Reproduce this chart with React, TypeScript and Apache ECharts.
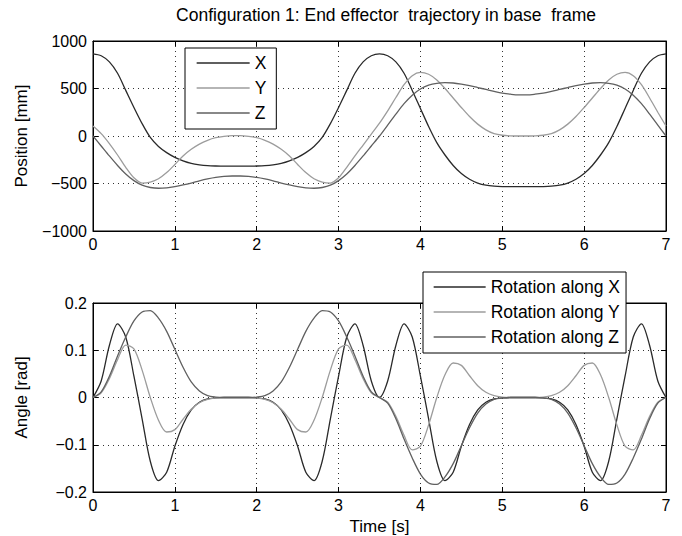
import React, { useEffect, useRef } from "react";
import * as echarts from "echarts";

const TIME = [
  0, 0.1, 0.2, 0.3, 0.4, 0.5, 0.6, 0.7, 0.8, 0.9, 1.0, 1.1, 1.2, 1.3, 1.4, 1.5, 1.6, 1.7, 1.8, 1.9,
  2.0, 2.1, 2.2, 2.3, 2.4, 2.5, 2.6, 2.7, 2.8, 2.9, 3.0, 3.1, 3.2, 3.3, 3.4, 3.5, 3.6, 3.7, 3.8, 3.9,
  4.0, 4.1, 4.2, 4.3, 4.4, 4.5, 4.6, 4.7, 4.8, 4.9, 5.0, 5.1, 5.2, 5.3, 5.4, 5.5, 5.6, 5.7, 5.8, 5.9,
  6.0, 6.1, 6.2, 6.3, 6.4, 6.5, 6.6, 6.7, 6.8, 6.9, 7.0,
];

// Position [mm]
const POS_X = [
  865, 845, 780, 660, 480, 300, 130, -15, -110, -175, -225, -262, -288, -303, -312, -316, -318, -318, -318, -318,
  -316, -312, -303, -288, -262, -225, -175, -110, -15, 130, 300, 480, 660, 780, 845, 865, 845, 780, 660, 480,
  290, 100, -70, -200, -310, -395, -455, -495, -518, -528, -532, -533, -533, -533, -533, -532, -528, -518, -495, -455,
  -395, -310, -200, -70, 100, 290, 480, 660, 780, 845, 865,
];
const POS_Y = [
  105, 25, -80, -200, -330, -440, -495, -485, -450, -385, -300, -210, -140, -85, -45, -18, -4, 3, 3, -4,
  -18, -45, -85, -140, -210, -300, -385, -450, -485, -495, -440, -330, -210, -95, 20, 135, 265, 405, 540, 635,
  670, 650, 590, 500, 400, 300, 205, 125, 65, 25, 8, 2, 0, 0, 2, 8, 25, 65, 125, 205,
  300, 400, 500, 590, 650, 670, 635, 540, 400, 250, 105,
];
const POS_Z = [
  0, -105, -210, -310, -400, -470, -518, -542, -550, -545, -532, -515, -495, -472, -452, -436, -426, -421, -421, -426,
  -436, -452, -472, -495, -515, -532, -545, -550, -542, -518, -470, -400, -310, -210, -105, 0, 115, 230, 340, 430,
  495, 535, 555, 562, 558, 546, 530, 510, 490, 470, 452, 440, 433, 433, 440, 452, 470, 490, 510, 530,
  546, 558, 562, 555, 535, 495, 430, 340, 230, 115, 0,
];

// Angle [rad]
const ROT_X = [
  0, 0.035, 0.11, 0.156, 0.128, 0.045, -0.045, -0.135, -0.176, -0.158, -0.103, -0.057, -0.026, -0.01, -0.003, -0.001, 0, 0, 0, 0,
  -0.001, -0.003, -0.01, -0.026, -0.057, -0.103, -0.158, -0.176, -0.135, -0.045, 0.045, 0.128, 0.156, 0.11, 0.035, 0, 0.035, 0.11, 0.156, 0.128,
  0.045, -0.045, -0.135, -0.176, -0.158, -0.103, -0.057, -0.026, -0.01, -0.003, -0.001, 0, 0, 0, 0, -0.001, -0.003, -0.01, -0.026, -0.057,
  -0.103, -0.158, -0.176, -0.135, -0.045, 0.045, 0.128, 0.156, 0.11, 0.035, 0,
];
const ROT_Y = [
  0, 0.01, 0.04, 0.08, 0.111, 0.103, 0.058, 0.0, -0.048, -0.073, -0.068, -0.046, -0.025, -0.011, -0.004, -0.001, 0, 0, 0, 0,
  -0.001, -0.004, -0.011, -0.025, -0.046, -0.068, -0.073, -0.048, 0.0, 0.058, 0.103, 0.111, 0.08, 0.04, 0.01, 0, -0.01, -0.04, -0.08, -0.111,
  -0.103, -0.058, 0.0, 0.048, 0.073, 0.068, 0.046, 0.025, 0.011, 0.004, 0.001, 0, 0, 0, 0, 0.001, 0.004, 0.011, 0.025, 0.046,
  0.068, 0.073, 0.048, 0.0, -0.058, -0.103, -0.111, -0.08, -0.04, -0.01, 0,
];
const ROT_Z = [
  0, 0.012, 0.045, 0.088, 0.128, 0.162, 0.181, 0.184, 0.168, 0.14, 0.102, 0.064, 0.033, 0.014, 0.004, 0.001, 0, 0, 0, 0,
  0.001, 0.004, 0.014, 0.033, 0.064, 0.102, 0.14, 0.168, 0.184, 0.181, 0.162, 0.128, 0.088, 0.045, 0.012, 0, -0.012, -0.045, -0.088, -0.128,
  -0.162, -0.181, -0.184, -0.168, -0.14, -0.102, -0.064, -0.033, -0.014, -0.004, -0.001, 0, 0, 0, 0, -0.001, -0.004, -0.014, -0.033, -0.064,
  -0.102, -0.14, -0.168, -0.184, -0.181, -0.162, -0.128, -0.088, -0.045, -0.012, 0,
];

const TOP_NAMES = ["X", "Y", "Z"];
const BOTTOM_NAMES = ["Rotation along X", "Rotation along Y", "Rotation along Z"];
const TITLE = "Configuration 1: End effector  trajectory in base  frame";
const COLORS = ["#2a2a2a", "#9c9c9c", "#606060"];
const FONT = "'Liberation Sans', Arial, Helvetica, sans-serif";

const minus = (v: number) => {
  const s = String(Math.round(v * 1000) / 1000);
  return s.replace("-", "\u2212");
};

export default function App() {
  const ref = useRef<HTMLDivElement>(null);
  useEffect(() => {
    if (!ref.current) return;
    const chart = echarts.init(ref.current, null, { renderer: "svg" });
    const pair = (ys: number[]) => TIME.map((t, i) => [t, ys[i]]);

    const tick = { show: true, inside: true, length: 5, lineStyle: { color: "#000" } };
    const split = { show: true, lineStyle: { color: "#333", type: [1, 4] as any, width: 1 } };
    const lbl = { color: "#000", fontSize: 16, fontFamily: FONT };
    const nameStyle = { color: "#000", fontSize: 17, fontFamily: FONT };

    const xMain = (gridIndex: number, name: string) => ({
      type: "value", gridIndex, min: 0, max: 7, interval: 1, position: "bottom",
      axisLine: { show: true, onZero: false, lineStyle: { color: "#000" } },
      axisTick: tick, splitLine: split,
      axisLabel: { ...lbl, margin: 5 },
      name, nameLocation: "middle", nameGap: 26,
      nameTextStyle: nameStyle,
    });
    const xTop = (gridIndex: number) => ({
      type: "value", gridIndex, min: 0, max: 7, interval: 1, position: "top",
      axisLine: { show: true, onZero: false, lineStyle: { color: "#000" } },
      axisTick: tick, splitLine: { show: false }, axisLabel: { show: false },
    });
    const yMain = (gridIndex: number, min: number, max: number, interval: number, name: string) => ({
      type: "value", gridIndex, min, max, interval, position: "left",
      axisLine: { show: true, onZero: false, lineStyle: { color: "#000" } },
      axisTick: tick, splitLine: split,
      axisLabel: { ...lbl, margin: 6, formatter: (v: number) => minus(v) },
      name, nameLocation: "middle", nameGap: 63,
      nameTextStyle: nameStyle,
    });
    const yRight = (gridIndex: number, min: number, max: number, interval: number) => ({
      type: "value", gridIndex, min, max, interval, position: "right",
      axisLine: { show: true, onZero: false, lineStyle: { color: "#000" } },
      axisTick: tick, splitLine: { show: false }, axisLabel: { show: false },
    });

    const mk = (name: string, data: number[], ci: number, xi: number, yi: number) => ({
      name, type: "line", xAxisIndex: xi, yAxisIndex: yi, data: pair(data),
      symbol: "none", smooth: 0.3, color: COLORS[ci],
      lineStyle: { color: COLORS[ci], width: 1.3 },
      z: 3,
    });

    const legendBase = {
      orient: "vertical", backgroundColor: "#fff", borderColor: "#000", borderWidth: 1,
      itemHeight: 16, itemGap: 7, selectedMode: false,
      itemStyle: { opacity: 0, borderWidth: 0 },
      lineStyle: { width: 1.3 },
      textStyle: { color: "#000", fontSize: 17.5, fontFamily: FONT },
      z: 10,
    };

    chart.setOption({
      animation: false,
      backgroundColor: "#fff",
      title: {
        text: TITLE, left: 381, top: 1, textAlign: "center",
        textStyle: { color: "#000", fontSize: 17.5, fontWeight: "normal", fontFamily: FONT },
      },
      grid: [
        { left: 93, top: 41, width: 573, height: 190, show: true, borderColor: "#000", borderWidth: 1, backgroundColor: "transparent" },
        { left: 93, top: 303, width: 573, height: 190, show: true, borderColor: "#000", borderWidth: 1, backgroundColor: "transparent" },
      ],
      xAxis: [xMain(0, ""), xTop(0), xMain(1, "Time [s]"), xTop(1)],
      yAxis: [
        yMain(0, -1000, 1000, 500, "Position [mm]"),
        yRight(0, -1000, 1000, 500),
        yMain(1, -0.2, 0.2, 0.1, "Angle [rad]"),
        yRight(1, -0.2, 0.2, 0.1),
      ],
      legend: [
        { ...legendBase, data: TOP_NAMES, left: 185, top: 48, itemWidth: 53, padding: [6, 10, 7, 11] },
        { ...legendBase, data: BOTTOM_NAMES, left: 423, top: 272, itemWidth: 52, padding: [6, 6, 7, 10] },
      ],
      series: [
        mk(TOP_NAMES[0], POS_X, 0, 0, 0),
        mk(TOP_NAMES[1], POS_Y, 1, 0, 0),
        mk(TOP_NAMES[2], POS_Z, 2, 0, 0),
        mk(BOTTOM_NAMES[0], ROT_X, 0, 2, 2),
        mk(BOTTOM_NAMES[1], ROT_Y, 1, 2, 2),
        mk(BOTTOM_NAMES[2], ROT_Z, 2, 2, 2),
      ],
    });
    return () => chart.dispose();
  }, []);

  return (
    <div
      ref={ref}
      style={{ position: "absolute", left: 0, top: 0, width: 682, height: 536, background: "#fff" }}
    />
  );
}
